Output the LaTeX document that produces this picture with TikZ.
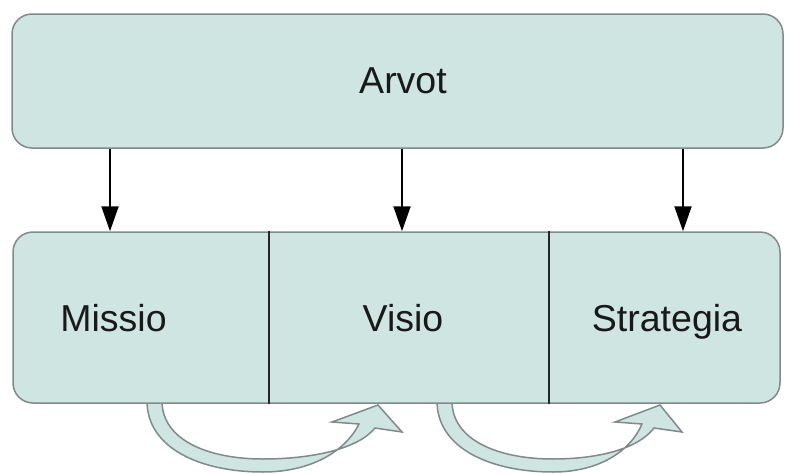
\documentclass[tikz,border=0pt]{standalone}
\usepackage{fontspec}
\setmainfont{Liberation Sans}
\usetikzlibrary{arrows.meta}

\definecolor{boxfill}{RGB}{207,229,226}
\definecolor{boxline}{RGB}{128,138,137}

\tikzset{
  panel/.style={draw=boxline, line width=1.5pt, fill=boxfill,
    rounded corners=20pt, inner sep=0pt},
  label/.style={anchor=base, inner sep=0pt,
    font=\fontsize{37.5}{40}\selectfont, text=black!90},
  down/.style={draw=black, line width=2pt,
    -{Triangle[length=25pt,width=17pt]}},
  divider/.style={draw=black!85, line width=1.5pt},
  loop/.style={draw=boxline, line width=1.5pt, fill=boxfill}
}

\begin{document}
\begin{tikzpicture}[x=1pt, y=-1pt]
  \useasboundingbox (0,0) rectangle (785,474);

  % curved arrows below the row
  \path[loop] (147,401) .. controls (147,448) and (200,472) .. (263,472)
    .. controls (310,472) and (345,452) .. (359,424)
    -- (332,422) -- (378,405) -- (402,432) -- (375,428)
    .. controls (358,449) and (312,459) .. (263,459)
    .. controls (208,459) and (162,440) .. (162,401) -- cycle;
  \path[loop] (437,401) .. controls (437,448) and (490,472) .. (553,472)
    .. controls (598,472) and (630,452) .. (642,424)
    -- (615,422) -- (660,405) -- (682,432) -- (654,428)
    .. controls (638,449) and (598,459) .. (553,459)
    .. controls (498,459) and (452,440) .. (452,401) -- cycle;

  % top panel
  \node[panel, minimum width=771pt, minimum height=134pt] (arvot) at (397.5,81) {};
  \node[label] (arvottext) at (403,93) {Arvot};

  % bottom row of three cells
  \node[panel, minimum width=767pt, minimum height=171pt] (row) at (396.5,317.5) {};
  \coordinate (d1) at (269,0);
  \coordinate (d2) at (549,0);
  \draw[divider] (row.north -| d1) -- (row.south -| d1);
  \draw[divider] (row.north -| d2) -- (row.south -| d2);

  \node[label] (missio) at (113.5,331) {Missio};
  \node[label] (visio) at (403,331) {Visio};
  \node[label] (strategia) at (667,331) {Strategia};

  % arrows from the top panel to the row
  \coordinate (a1) at (110,0);
  \coordinate (a2) at (402,0);
  \coordinate (a3) at (683,0);
  \draw[down] (arvot.south -| a1) -- (row.north -| a1);
  \draw[down] (arvot.south -| a2) -- (row.north -| a2);
  \draw[down] (arvot.south -| a3) -- (row.north -| a3);
\end{tikzpicture}
\end{document}
